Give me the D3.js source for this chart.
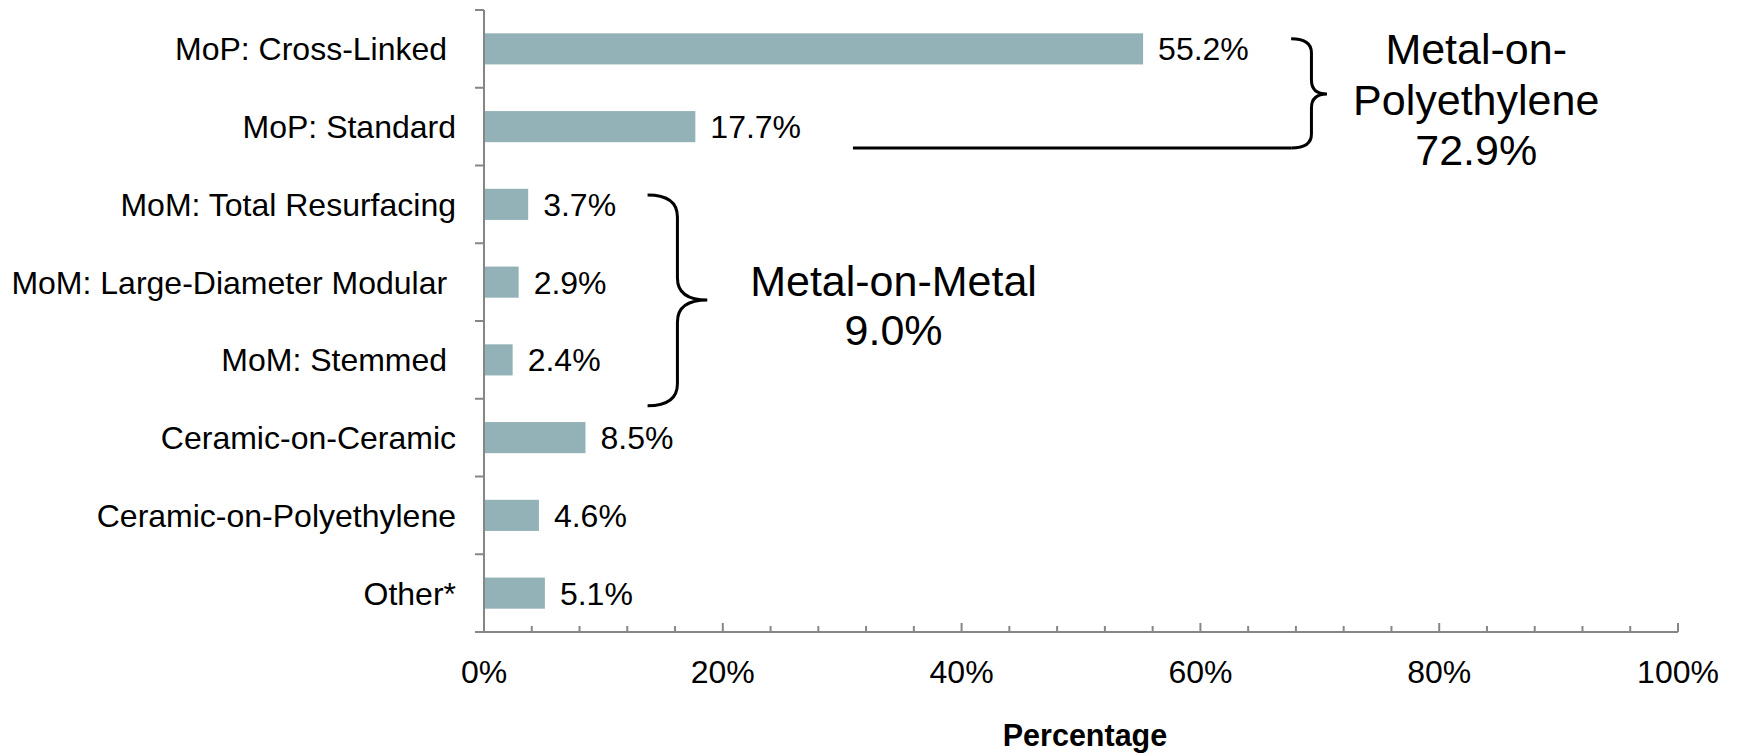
<!DOCTYPE html>
<html>
<head>
<meta charset="utf-8">
<script src="https://cdn.jsdelivr.net/npm/d3@7"></script>
<style>
  html, body { margin: 0; padding: 0; background: #ffffff; }
  svg { display: block; }
  text { font-family: "Liberation Sans", Arial, Helvetica, sans-serif; fill: #000; }
</style>
</head>
<body>
<svg id="chart" width="1737" height="755"></svg>
<script>
// ---- Data ----
const categories = [
  "MoP: Cross-Linked ",
  "MoP: Standard",
  "MoM: Total Resurfacing",
  "MoM: Large-Diameter Modular ",
  "MoM: Stemmed ",
  "Ceramic-on-Ceramic",
  "Ceramic-on-Polyethylene",
  "Other*"
];
const values = [55.2, 17.7, 3.7, 2.9, 2.4, 8.5, 4.6, 5.1];
const valueLabels = ["55.2%", "17.7%", "3.7%", "2.9%", "2.4%", "8.5%", "4.6%", "5.1%"];
const xTickValues = [0, 20, 40, 60, 80, 100];
const xTickLabels = ["0%", "20%", "40%", "60%", "80%", "100%"];
const xMinorTicks = d3.range(0, 101, 4);
const xAxisTitle = "Percentage";
const groupLabels = [
  { lines: ["Metal-on-", "Polyethylene", "72.9%"] },
  { lines: ["Metal-on-Metal", "9.0%"] }
];

// ---- Layout ----
const svg = d3.select("#chart");
const plot = { left: 484, right: 1678, top: 10, bottom: 632 };
const fontSize = 32;
const axisColor = "#868686";
const barColor = "#92b2b7";

const x = d3.scaleLinear().domain([0, 100]).range([plot.left, plot.right]);
const y = d3.scaleBand().domain(categories).range([plot.top, plot.bottom])
  .paddingInner(0.6).paddingOuter(0.3);
// continuous helper over category index (for annotations)
const yIdx = d3.scaleLinear().domain([0, categories.length]).range([plot.top, plot.bottom]);

// Bars
svg.append("g").selectAll("rect").data(values).join("rect")
  .attr("x", x(0))
  .attr("y", (d, i) => y(categories[i]))
  .attr("width", d => x(d) - x(0))
  .attr("height", y.bandwidth())
  .attr("fill", barColor);

// Value labels
svg.append("g").selectAll("text").data(values).join("text")
  .attr("x", d => x(d) + 15)
  .attr("y", (d, i) => y(categories[i]) + y.bandwidth() / 2)
  .attr("dy", "0.36em")
  .style("font-size", fontSize + "px")
  .text((d, i) => valueLabels[i]);

// Y axis (category boundaries as ticks)
const yAxisG = svg.append("g");
yAxisG.append("line")
  .attr("x1", x(0)).attr("x2", x(0))
  .attr("y1", plot.top).attr("y2", plot.bottom)
  .attr("stroke", axisColor).attr("stroke-width", 2);
yAxisG.selectAll("line.tick").data(d3.range(categories.length + 1)).join("line")
  .attr("class", "tick")
  .attr("x1", x(0) - 9).attr("x2", x(0))
  .attr("y1", d => yIdx(d)).attr("y2", d => yIdx(d))
  .attr("stroke", axisColor).attr("stroke-width", 2);
yAxisG.selectAll("text").data(categories).join("text")
  .attr("x", x(0) - 28)
  .attr("y", d => y(d) + y.bandwidth() / 2)
  .attr("dy", "0.36em")
  .attr("text-anchor", "end")
  .style("white-space", "pre")
  .style("font-size", fontSize + "px")
  .text(d => d);

// X axis
const xAxisG = svg.append("g");
xAxisG.append("line")
  .attr("x1", x(0) - 9).attr("x2", x(100))
  .attr("y1", plot.bottom).attr("y2", plot.bottom)
  .attr("stroke", axisColor).attr("stroke-width", 2);
xAxisG.selectAll("line.minor").data(xMinorTicks).join("line")
  .attr("class", "minor")
  .attr("x1", d => x(d)).attr("x2", d => x(d))
  .attr("y1", plot.bottom).attr("y2", d => plot.bottom - (d % 20 === 0 ? 9 : 6))
  .attr("stroke", axisColor).attr("stroke-width", 2);
xAxisG.selectAll("text").data(xTickValues).join("text")
  .attr("x", d => x(d))
  .attr("y", plot.bottom + 51)
  .attr("text-anchor", "middle")
  .style("font-size", fontSize + "px")
  .text((d, i) => xTickLabels[i]);

svg.append("text")
  .attr("x", (x(0) + x(100)) / 2 + 4)
  .attr("y", 746)
  .attr("text-anchor", "middle")
  .style("font-size", "30.5px")
  .style("font-weight", "bold")
  .text(xAxisTitle);

// ---- Braces ----
function bracePath(x0, x1, xp, yTop, yMid, yBot, r) {
  return `M${x0},${yTop} Q${x1},${yTop} ${x1},${yTop + r} ` +
    `L${x1},${yMid - r} Q${x1},${yMid} ${xp},${yMid} ` +
    `Q${x1},${yMid} ${x1},${yMid + r} ` +
    `L${x1},${yBot - r} Q${x1},${yBot} ${x0},${yBot}`;
}
// Metal-on-Polyethylene brace
const b1 = { x0: x(67.6), x1: x(69.3), xp: x(70.6), yTop: yIdx(0.37), yMid: yIdx(1.08), yBot: yIdx(1.775) };
svg.append("path")
  .attr("d", bracePath(b1.x0, b1.x1, b1.xp, b1.yTop, b1.yMid, b1.yBot, 14))
  .attr("fill", "none").attr("stroke", "#000").attr("stroke-width", 3);
svg.append("line")
  .attr("x1", x(30.9)).attr("x2", b1.x0)
  .attr("y1", b1.yBot).attr("y2", b1.yBot)
  .attr("stroke", "#000").attr("stroke-width", 3);

// Metal-on-Metal brace
const b2 = { x0: x(13.7), x1: x(16.2), xp: x(18.7), yTop: yIdx(2.38), yMid: yIdx(3.73), yBot: yIdx(5.09) };
svg.append("path")
  .attr("d", bracePath(b2.x0, b2.x1, b2.xp, b2.yTop, b2.yMid, b2.yBot, 22))
  .attr("fill", "none").attr("stroke", "#000").attr("stroke-width", 3);

// Group labels
const groupPos = [
  { cx: x(83.1), y0: yIdx(0.695), lh: 50.5 },
  { cx: x(34.3), y0: yIdx(3.68), lh: 49 }
];
groupLabels.forEach((g, gi) => {
  const t = svg.append("text")
    .attr("text-anchor", "middle")
    .style("font-size", "43px");
  g.lines.forEach((ln, li) => {
    t.append("tspan")
      .attr("x", groupPos[gi].cx)
      .attr("y", groupPos[gi].y0 + li * groupPos[gi].lh)
      .text(ln);
  });
});
</script>
</body>
</html>
